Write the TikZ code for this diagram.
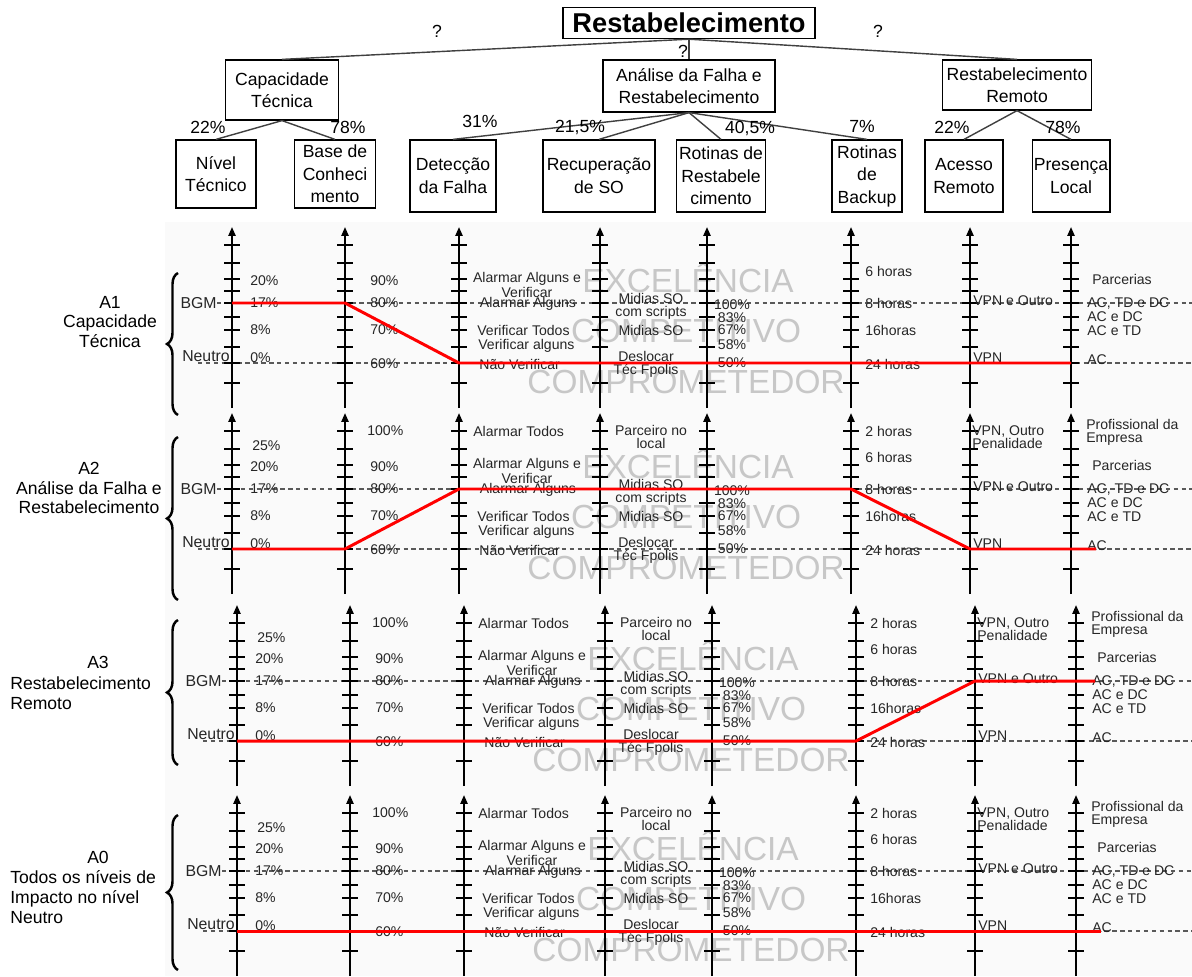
\documentclass[tikz,border=0pt]{standalone}
\usepackage{fontspec}
\setmainfont{Liberation Sans}
\usetikzlibrary{arrows.meta,decorations.pathreplacing}
\tikzstyle{rootbox}=[draw, line width=0.8pt, font=\fontsize{15.5}{16}\selectfont\bfseries, minimum width=5.04cm, minimum height=0.62cm, inner sep=0pt]
\tikzstyle{critbox}=[draw, line width=0.7pt, font=\fontsize{10}{12.8}\selectfont, align=center, inner sep=1pt]
\tikzstyle{treeline}=[draw, line width=0.8pt, black!75]
\tikzstyle{wlabel}=[font=\fontsize{10}{12}\selectfont, inner sep=0pt]
\tikzstyle{axisline}=[line width=1.1pt, -{Triangle[length=5pt,width=4pt]}]
\tikzstyle{tickline}=[line width=0.8pt]
\tikzstyle{refline}=[black!65, line width=0.6pt, dash pattern=on 2.5pt off 2pt]
\tikzstyle{profile}=[red, line width=1.7pt, line join=round]
\tikzstyle{lvl}=[font=\fontsize{8}{7.3}\selectfont, inner sep=0pt, text=black!85]
\tikzstyle{reflabel}=[font=\fontsize{9}{10}\selectfont, inner sep=0pt, text=black!85]
\tikzstyle{wmark}=[font=\fontsize{19}{20}\selectfont, text=black!22, inner sep=0pt]
\tikzstyle{desc}=[font=\fontsize{10}{11.3}\selectfont, inner sep=0pt]
\tikzstyle{bracel}=[decorate, decoration={brace, amplitude=0.22cm}, line width=1.4pt]

% one impact panel: #1 = id, #2 = y of the axis tips
\newcommand{\panel}[2]{%
  % watermark
  \node (ex#1) [wmark] at (688,#2+51) {EXCELÊNCIA};
  \node (co#1) [wmark] at (686,#2+104) {COMPETITIVO};
  \node (cm#1) [wmark] at (686,#2+155) {COMPROMETEDOR};
  % reference levels
  \node (bgm#1) [reflabel, anchor=east] at (217,#2+76) {BGM};
  \node (neu#1) [reflabel, anchor=south] at (206,#2+135) {Neutro};
  \coordinate (bgmend#1) at (1192,#2+76);
  \coordinate (neustart#1) at (198,#2+136);
  \coordinate (neuend#1) at (1192,#2+136);
  \draw[refline] (bgm#1.east) -- (bgmend#1);
  \draw[refline] (neustart#1) -- (neuend#1);
  % axes
  \foreach \ax [count=\a] in {232,345,459,600,707,851,970,1071} {
    \draw[axisline] (\ax,#2+181) -- (\ax,#2);
    \foreach \t in {18,36,52,64,76,90,103,120,136,156}
      \draw[tickline] (\ax-8,#2+\t) -- (\ax+8,#2+\t);
    \coordinate (p#1-\a-b) at (\ax,#2+76);
    \coordinate (p#1-\a-n) at (\ax,#2+136);
  }
  \coordinate (p#1-eb) at (1090,#2+76);
  \coordinate (p#1-en) at (1096,#2+136);
  % levels
  \foreach \lx/\ly/\lt [count=\k] in {250/54/20\%, 250/76/17\%, 250/103/8\%, 250/131/0\%,
      370/54/90\%, 370/76/80\%, 370/103/70\%, 370/137/60\%,
      477/103/Verificar Todos, 478/119/Verificar alguns, 479/137/Não Verificar,
      865/44/6 horas, 865/76/8 horas, 865/103/16horas, 865/137/24 horas,
      973/74/VPN e Outro, 973/131/VPN,
      1092/52/Parcerias, 1087/76/{AC, TD e DC}, 1087/90/AC e DC, 1087/104/AC e TD, 1087/133/AC}
    \node (lw#1-\k) [lvl, anchor=west, align=left] at (\lx,#2+\ly) {\lt};
  \foreach \lx/\ly/\lt [count=\k] in {527/58/{Alarmar Alguns e\\Verificar}, 528/77/Alarmar Alguns,
      651/79/{Midias SO\\com scripts}, 651/103/Midias SO, 646/137/{Deslocar\\Téc Fpolis},
      732/78/100\%, 732/91/83\%, 732/103/67\%, 732/118/58\%, 732/136/50\%}
    \node (lc#1-\k) [lvl, align=center] at (\lx,#2+\ly) {\lt};
}
% upper levels, only in panels A2, A3, A0
\newcommand{\toplevels}[2]{%
  \foreach \lx/\ly/\lt [count=\k] in {252/33/25\%, 367/18/100\%, 473/18/Alarmar Todos,
      865/18/2 horas, 972/24/{VPN, Outro\\Penalidade}, 1086/19/{Profissional da\\Empresa}}
    \node (tw#1-\k) [lvl, anchor=west, align=left] at (\lx,#2+\ly) {\lt};
  \node (tc#1) [lvl, align=center] at (651,#2+24) {Parceiro no\\local};
}

\begin{document}
\begin{tikzpicture}[x=0.02cm, y=-0.02cm]
\useasboundingbox (0,0) rectangle (1192,976);
\fill[black!2] (165,222) rectangle (1192,976);

% value tree
\node (root) [rootbox] at (689,23) {Restabelecimento};
\node (cap) [critbox, minimum width=2.26cm, minimum height=1.2cm] at (282,90) {Capacidade\\Técnica};
\node (afr) [critbox, minimum width=3.44cm, minimum height=1.04cm] at (689,86) {Análise da Falha e\\Restabelecimento};
\node (rrem) [critbox, minimum width=2.98cm, minimum height=1.0cm] at (1017,85) {Restabelecimento\\Remoto};
\node (nt) [critbox, minimum width=1.6cm, minimum height=1.36cm] at (216,174) {Nível\\Técnico};
\node (bc) [critbox, minimum width=1.62cm, minimum height=1.36cm] at (335,174) {Base de\\Conheci\\mento};
\node (df) [critbox, minimum width=1.72cm, minimum height=1.44cm] at (453,176) {Detecção\\da Falha};
\node (rso) [critbox, minimum width=2.24cm, minimum height=1.44cm] at (599,176) {Recuperação\\de SO};
\node (rr) [critbox, minimum width=1.78cm, minimum height=1.44cm] at (721,176) {Rotinas de\\Restabele\\cimento};
\node (rb) [critbox, minimum width=1.4cm, minimum height=1.44cm] at (867,176) {Rotinas\\de\\Backup};
\node (ar) [critbox, minimum width=1.56cm, minimum height=1.44cm] at (964,176) {Acesso\\Remoto};
\node (pl) [critbox, minimum width=1.54cm, minimum height=1.44cm] at (1071,176) {Presença\\Local};

% tree connectors
\draw[treeline] (root.south) -- (cap.north);
\draw[treeline] (root.south) -- (afr.north);
\draw[treeline] (root.south) -- (rrem.north);
\draw[treeline] (cap.south) -- (nt.north);
\draw[treeline] (cap.south) -- (bc.north);
\foreach \s in {df,rso,rr,rb}
  \draw[treeline] (afr.south) -- (\s.north);
\draw[treeline] (rrem.south) -- (ar.north);
\draw[treeline] (rrem.south) -- (pl.north);

% weights
\node (q1) [wlabel] at (437,31) {?};
\node (q2) [wlabel] at (683,51) {?};
\node (q3) [wlabel] at (878,31) {?};
\node (w-nt) [wlabel] at (208,127) {22\%};
\node (w-bc) [wlabel] at (348,127) {78\%};
\node (w-df) [wlabel] at (480,121) {31\%};
\node (w-rso) [wlabel] at (580,127) {21,5\%};
\node (w-rr) [wlabel] at (750,128) {40,5\%};
\node (w-rb) [wlabel] at (862,126) {7\%};
\node (w-ar) [wlabel] at (952,127) {22\%};
\node (w-pl) [wlabel] at (1063,127) {78\%};

% impact panels
\panel{1}{227}
\panel{2}{413}
\toplevels{2}{413}
\begin{scope}[xshift=0.1cm]
\panel{3}{605}
\toplevels{3}{605}
\panel{4}{795}
\toplevels{4}{795}
\end{scope}

% profiles
\draw[profile] (p1-1-b) -- (p1-2-b) -- (p1-3-n) -- (p1-8-n);
\draw[profile] (p2-1-n) -- (p2-2-n) -- (p2-3-b) -- (p2-6-b) -- (p2-7-n) -- (p2-en);
\draw[profile] (p3-1-n) -- (p3-6-n) -- (p3-7-b) -- (p3-eb);
\draw[profile] (p4-1-n) -- (p4-en);

% actions
\draw[bracel] (178,415) -- (178,273);
\draw[bracel] (178,600) -- (178,437);
\draw[bracel] (178,765) -- (178,620);
\draw[bracel] (178,970) -- (178,815);
\node (d1) [desc, align=center] at (110,322) {A1\\Capacidade\\Técnica};
\node (d2) [desc, align=center] at (89,488) {A2\\Análise da Falha e\\Restabelecimento};
\node (d3a) [desc] at (98,662) {A3};
\node (d3) [desc, align=left, anchor=west] at (10,693) {Restabelecimento\\Remoto};
\node (d4a) [desc] at (98,857) {A0};
\node (d4) [desc, align=left, anchor=west] at (10,897) {Todos os níveis de\\Impacto no nível\\Neutro};
\end{tikzpicture}
\end{document}
